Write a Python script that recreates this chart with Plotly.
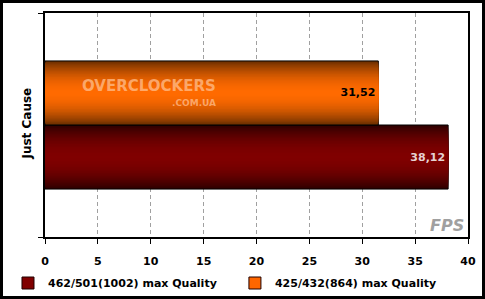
import plotly.graph_objects as go

categories = ["Just Cause"]
series_names = ["462/501(1002) max Quality", "425/432(864) max Quality"]
series_values = [[38.12], [31.52]]
x_ticks = [0, 5, 10, 15, 20, 25, 30, 35, 40]

edge_colors = [(48, 0, 0), (110, 48, 0)]
center_colors = [(128, 0, 0), (255, 106, 0)]
legend_colors = ["#800000", "#ff6600"]
text_colors = ["#e6d2d2", "#000000"]

W = 0.286            # width of one bar (category units)
centers = [-W / 2, W / 2]
N = 22

FONT = dict(family="DejaVu Sans", size=11, color="#000000", weight="bold")

fig = go.Figure()

for s, vals in enumerate(series_values):
    e, c = edge_colors[s], center_colors[s]
    for i in range(N):
        f = 1 - i / N
        t = 1 - f ** 2
        col = "rgb(%d,%d,%d)" % tuple(round(e[k] + (c[k] - e[k]) * t) for k in range(3))
        w = W * f
        fig.add_trace(go.Bar(
            y=categories, x=vals, orientation="h",
            width=[w], offset=[centers[s] - w / 2],
            marker=dict(color=col,
                        line=dict(color="#000000", width=1 if i == 0 else 0)),
            showlegend=False, hoverinfo="skip",
        ))

# value labels
for s, vals in enumerate(series_values):
    fig.add_trace(go.Bar(
        y=categories, x=vals, orientation="h",
        width=[W], offset=[centers[s] - W / 2],
        marker=dict(color="rgba(0,0,0,0)", line=dict(width=0)),
        texttemplate="%{x:.2f}", textposition="inside", insidetextanchor="end",
        textfont=dict(family="DejaVu Sans", size=11, color=text_colors[s], weight="bold"),
        showlegend=False, hoverinfo="skip",
    ))

# legend entries (one legend box each, to place them like the original)
legend_ids = ["legend", "legend2"]
for s, name in enumerate(series_names):
    fig.add_trace(go.Bar(
        y=[None], x=[None], orientation="h", name=name, legend=legend_ids[s],
        marker=dict(color=legend_colors[s], line=dict(color="#200000", width=1)),
        hoverinfo="skip",
    ))

# watermark
WM = "rgba(255,190,140,0.75)"
fig.add_annotation(text="OVERCLOCKERS", xref="paper", yref="paper",
                   x=0.083, y=0.674, xanchor="left", yanchor="middle", showarrow=False,
                   font=dict(family="DejaVu Sans", size=15, color=WM, weight="bold"))
fig.add_annotation(text=".COM.UA", xref="paper", yref="paper",
                   x=0.409, y=0.598, xanchor="right", yanchor="middle", showarrow=False,
                   font=dict(family="DejaVu Sans", size=9, color=WM, weight="bold"))

fig.add_annotation(text="<i>FPS</i>", xref="paper", yref="paper",
                   x=0.995, y=0.0, xanchor="right", yanchor="bottom", showarrow=False,
                   font=dict(family="DejaVu Sans", size=16, color="#a0a0a0", weight="bold"))

# outer frame
PW, PH, L, T = 423, 224, 45, 13
fig.add_shape(type="rect", xref="paper", yref="paper",
              x0=(1.5 - L) / PW, x1=(483.5 - L) / PW,
              y0=1 - (297.5 - T) / PH, y1=1 - (1.5 - T) / PH,
              line=dict(color="#000000", width=3), fillcolor="rgba(0,0,0,0)")

leg_common = dict(orientation="h", xanchor="left", yref="container", y=0.0535,
                  yanchor="middle", font=FONT, bgcolor="rgba(0,0,0,0)")

fig.update_layout(
    width=485, height=299,
    margin=dict(l=45, r=17, t=13, b=62, autoexpand=False),
    barmode="overlay",
    separators=",.",
    paper_bgcolor="#ffffff", plot_bgcolor="#ffffff",
    font=FONT,
    xaxis=dict(range=[0, 40], tickvals=x_ticks, ticks="outside", ticklen=5,
               tickcolor="#000000", tickwidth=1, ticklabelstandoff=8,
               showline=True, linecolor="#000000", linewidth=2, mirror=True,
               showgrid=True, gridcolor="#a0a0a0", griddash="4px,3px", gridwidth=1,
               zeroline=False, tickfont=FONT, fixedrange=True),
    yaxis=dict(type="category", range=[-0.5, 0.5], tickson="boundaries",
               ticks="outside", ticklen=5, tickcolor="#000000", ticklabelstandoff=7,
               tickangle=-90, showline=True, linecolor="#000000", linewidth=2,
               mirror=True, showgrid=False, zeroline=False,
               tickfont=dict(family="DejaVu Sans", size=12, color="#000000", weight="bold"),
               fixedrange=True),
    legend=dict(x=-0.0875, **leg_common),
    legend2=dict(x=0.449, **leg_common),
    showlegend=True,
)

fig.write_html("out.html")
